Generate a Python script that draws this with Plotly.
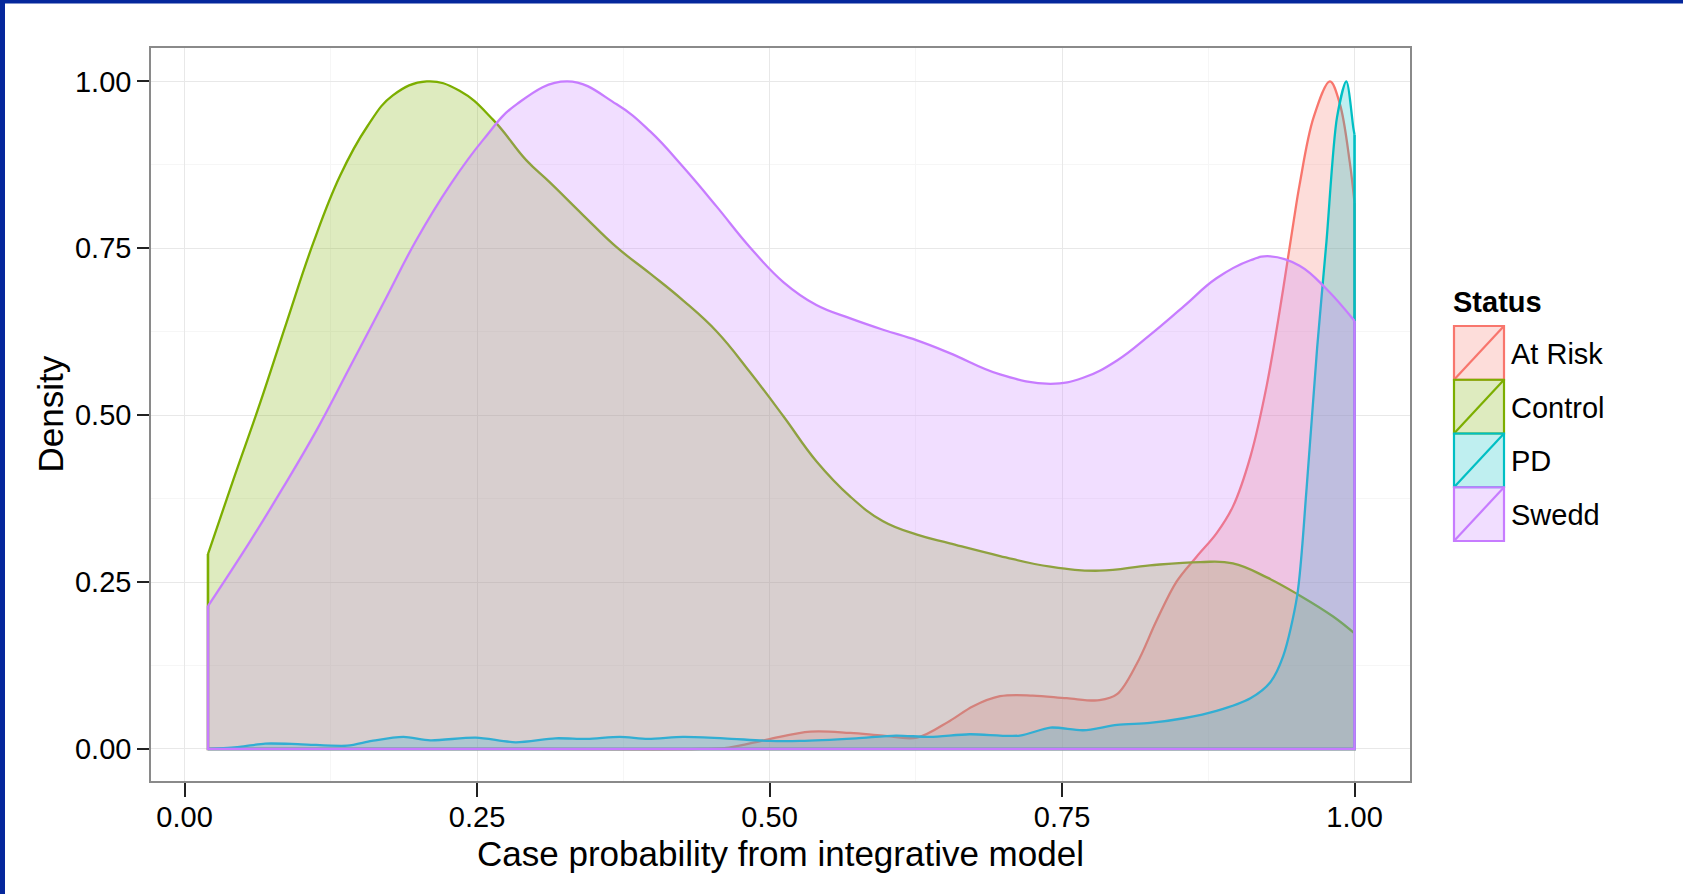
import plotly.graph_objects as go

# ---------------- data ----------------
statuses = ["At Risk", "Control", "PD", "Swedd"]
colors = ["#F8766D", "#7CAE00", "#00BFC4", "#C77CFF"]

at_risk_x = [0.02, 0.30, 0.44, 0.465, 0.498, 0.535, 0.569, 0.597, 0.626, 0.654, 0.674, 0.697, 0.725,
             0.754, 0.782, 0.797, 0.814, 0.831, 0.848, 0.865, 0.882, 0.896, 0.911, 0.925, 0.939,
             0.948, 0.953, 0.965, 0.979, 0.9875, 0.996, 1.0]
at_risk_y = [0.0, 0.0, 0.0, 0.002, 0.014, 0.026, 0.024, 0.020, 0.017, 0.042, 0.064, 0.079, 0.080,
             0.076, 0.073, 0.082, 0.128, 0.193, 0.251, 0.288, 0.323, 0.363, 0.438, 0.545, 0.689,
             0.791, 0.845, 0.946, 1.0, 0.966, 0.878, 0.818]

control_x = [0.02, 0.042, 0.0645, 0.087, 0.110, 0.133, 0.156, 0.178, 0.207, 0.235, 0.264, 0.292,
             0.312, 0.341, 0.369, 0.398, 0.426, 0.455, 0.483, 0.512, 0.540, 0.569, 0.597, 0.626,
             0.654, 0.697, 0.740, 0.782, 0.825, 0.868, 0.896, 0.925, 0.953, 0.982, 1.0]
control_y = [0.292, 0.405, 0.518, 0.638, 0.758, 0.859, 0.932, 0.979, 1.0, 0.986, 0.942, 0.882,
             0.849, 0.799, 0.752, 0.712, 0.672, 0.625, 0.565, 0.498, 0.431, 0.378, 0.341, 0.321,
             0.308, 0.289, 0.273, 0.267, 0.275, 0.280, 0.278, 0.257, 0.230, 0.198, 0.173]

pd_x = [0.02, 0.047, 0.069, 0.10, 0.139, 0.16, 0.187, 0.21, 0.249, 0.283, 0.317, 0.344, 0.372,
        0.396, 0.426, 0.461, 0.50, 0.526, 0.574, 0.608, 0.637, 0.671, 0.714, 0.740, 0.768, 0.797,
        0.825, 0.854, 0.882, 0.911, 0.928, 0.939, 0.951, 0.959, 0.968, 0.976, 0.985, 0.993, 0.999, 1.0]
pd_y = [0.0, 0.003, 0.008, 0.007, 0.005, 0.012, 0.018, 0.013, 0.017, 0.010, 0.016, 0.015, 0.018,
        0.015, 0.018, 0.016, 0.012, 0.012, 0.016, 0.020, 0.018, 0.022, 0.020, 0.032, 0.028, 0.036,
        0.039, 0.046, 0.057, 0.076, 0.100, 0.139, 0.230, 0.390, 0.600, 0.760, 0.946, 1.0, 0.930, 0.920]

swedd_x = [0.02, 0.056, 0.084, 0.113, 0.141, 0.170, 0.198, 0.227, 0.255, 0.284, 0.327, 0.369,
           0.398, 0.426, 0.455, 0.483, 0.512, 0.540, 0.569, 0.597, 0.626, 0.654, 0.697, 0.740,
           0.768, 0.797, 0.825, 0.854, 0.882, 0.911, 0.928, 0.953, 0.976, 1.0]
swedd_y = [0.214, 0.311, 0.391, 0.478, 0.571, 0.668, 0.762, 0.845, 0.912, 0.966, 1.0, 0.966,
           0.925, 0.872, 0.812, 0.752, 0.699, 0.665, 0.645, 0.628, 0.612, 0.593, 0.561, 0.547,
           0.556, 0.582, 0.620, 0.663, 0.705, 0.732, 0.738, 0.724, 0.689, 0.641]

series_x = [at_risk_x, control_x, pd_x, swedd_x]
series_y = [at_risk_y, control_y, pd_y, swedd_y]
smoothing = [1.0, 1.2, 0.8, 1.2]

x_ticks = [0.0, 0.25, 0.5, 0.75, 1.0]
y_ticks = [0.0, 0.25, 0.5, 0.75, 1.0]
x_title = "Case probability from integrative model"
y_title = "Density"
legend_title = "Status"

# ---------------- layout constants ----------------
FIG_W, FIG_H = 1683, 894
ML, MR, MT, MB = 151, 273, 48, 113
PW = FIG_W - ML - MR
PH = FIG_H - MT - MB
FONT = "Liberation Sans, Arial, Helvetica, sans-serif"
FILL_ALPHA = 0.25
LINE_W = 2.3


def px_x(p):
    return (p - ML) / PW


def px_y(p):
    return (FIG_H - MB - p) / PH


def rgba(hex_color, a):
    h = hex_color.lstrip("#")
    r, g, b = int(h[0:2], 16), int(h[2:4], 16), int(h[4:6], 16)
    return f"rgba({r},{g},{b},{a})"


fig = go.Figure()

for name, col, xs, ys, sm in zip(statuses, colors, series_x, series_y, smoothing):
    # density curve with filled area
    fig.add_trace(go.Scatter(
        x=xs, y=ys, mode="lines", name=name,
        line=dict(color=col, width=LINE_W, shape="spline", smoothing=sm),
        fill="tozeroy", fillcolor=rgba(col, FILL_ALPHA),
        showlegend=False, hoverinfo="x+y+name",
    ))
    # polygon outline: right side, bottom, left side
    fig.add_trace(go.Scatter(
        x=[xs[-1], xs[-1], xs[0], xs[0]], y=[ys[-1], 0, 0, ys[0]],
        mode="lines", line=dict(color=col, width=2.6),
        showlegend=False, hoverinfo="skip",
    ))

shapes = []
annotations = []

# blue slide frame (top and left strips)
FRAME = "#05279C"
shapes.append(dict(type="rect", xref="paper", yref="paper",
                   x0=px_x(0), x1=px_x(FIG_W), y0=px_y(3.5), y1=px_y(0),
                   fillcolor=FRAME, line=dict(width=0), layer="above"))
shapes.append(dict(type="rect", xref="paper", yref="paper",
                   x0=px_x(0), x1=px_x(5), y0=px_y(FIG_H), y1=px_y(0),
                   fillcolor=FRAME, line=dict(width=0), layer="above"))

# custom ggplot-style legend
KEY_X0, KEY_X1 = 1454, 1504
KEY_TOP, KEY_H = 326, 53.75
annotations.append(dict(text=f"<b>{legend_title}</b>", xref="paper", yref="paper",
                        x=px_x(1451), y=px_y(302), xanchor="left", yanchor="middle",
                        showarrow=False, font=dict(family=FONT, size=29, color="black")))
for i, (name, col) in enumerate(zip(statuses, colors)):
    top = KEY_TOP + i * KEY_H
    bot = top + KEY_H
    shapes.append(dict(type="rect", xref="paper", yref="paper",
                       x0=px_x(KEY_X0), x1=px_x(KEY_X1), y0=px_y(bot), y1=px_y(top),
                       fillcolor=rgba(col, FILL_ALPHA), line=dict(color=col, width=2.2),
                       layer="above"))
    shapes.append(dict(type="line", xref="paper", yref="paper",
                       x0=px_x(KEY_X0), x1=px_x(KEY_X1), y0=px_y(bot), y1=px_y(top),
                       line=dict(color=col, width=2.2), layer="above"))
    annotations.append(dict(text=name, xref="paper", yref="paper",
                            x=px_x(1509), y=px_y((top + bot) / 2 + 1), xanchor="left",
                            yanchor="middle", showarrow=False,
                            font=dict(family=FONT, size=29, color="black")))

# axis titles
annotations.append(dict(text=x_title, xref="paper", yref="paper", x=0.5, y=px_y(853),
                        xanchor="center", yanchor="middle", showarrow=False,
                        font=dict(family=FONT, size=35, color="black")))
annotations.append(dict(text=y_title, xref="paper", yref="paper", x=px_x(50), y=0.5,
                        xanchor="center", yanchor="middle", showarrow=False, textangle=-90,
                        font=dict(family=FONT, size=35, color="black")))

axis_common = dict(
    showline=True, mirror=True, linecolor="#8A8A8A", linewidth=1.5,
    showgrid=True, gridcolor="#E8E8E8", gridwidth=1.2, zeroline=False,
    ticks="outside", tickwidth=2, tickcolor="#222222",
    tickfont=dict(family=FONT, size=29, color="black"),
    tickformat=".2f",
    minor=dict(dtick=0.125, tick0=0, showgrid=True, gridcolor="#F6F6F6", gridwidth=1, ticks=""),
)

fig.update_layout(
    width=FIG_W, height=FIG_H, autosize=False,
    margin=dict(l=ML, r=MR, t=MT, b=MB, pad=0),
    paper_bgcolor="white", plot_bgcolor="white",
    font=dict(family=FONT, color="black"),
    xaxis=dict(range=[-0.0287, 1.0474], tickvals=x_ticks, ticklen=14,
               ticklabelstandoff=-5, **axis_common),
    yaxis=dict(range=[-0.048, 1.05], tickvals=y_ticks, ticklen=12, **axis_common),
    shapes=shapes, annotations=annotations, showlegend=False,
)

fig.write_html("out.html")
